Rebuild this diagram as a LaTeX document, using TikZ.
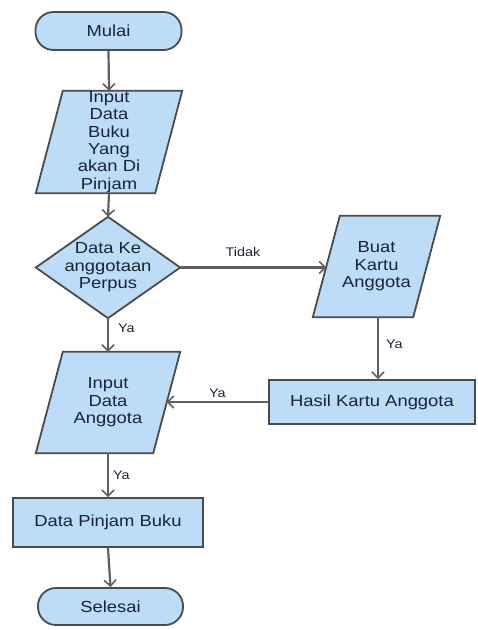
\documentclass[tikz,border=0pt]{standalone}
\usepackage{fontspec}
\setmainfont{Liberation Sans}[FakeStretch=1.15]
\usetikzlibrary{arrows.meta,calc}
\pgfdeclarelayer{bg}
\pgfsetlayers{bg,main}
\definecolor{boxfill}{RGB}{189,220,248}
\definecolor{boxline}{RGB}{75,75,75}
\definecolor{arrline}{RGB}{95,95,95}
\definecolor{txtcol}{RGB}{25,35,55}
\begin{document}
\begin{tikzpicture}[x=1pt,y=1pt,
  box/.style={draw=none, inner sep=0pt, align=center, text=txtcol, font=\fontsize{16pt}{17.4pt}\selectfont},
  term/.style={box, draw=boxline, fill=boxfill, line width=1.8pt, rounded corners=18pt},
  proc/.style={box, draw=boxline, fill=boxfill, line width=1.8pt},
  shp/.style={draw=boxline, fill=boxfill, line width=1.8pt, line join=miter},
  conn/.style={draw=arrline, line width=2.2pt, -{Straight Barb[length=6pt,width=12pt,line width=1.6pt]}},
  lbl/.style={inner sep=1pt, text=txtcol, font=\fontsize{12.5pt}{14pt}\selectfont}]
\useasboundingbox (0,0) rectangle (478,-630);
\node[term, minimum width=146pt, minimum height=38pt] (mulai) at (108.5,-31) {Mulai};
\node[box, minimum width=146pt, minimum height=102pt] (in1) at (109,-142) {Input\\Data\\Buku\\Yang\\akan Di\\Pinjam};
\node[box, minimum width=144pt, minimum height=101pt] (dia) at (108,-267.5) {Data Ke\\anggotaan\\Perpus};
\node[box, minimum width=127pt, minimum height=101pt] (buat) at (376.5,-266.5) {Buat\\Kartu\\Anggota};
\node[proc, minimum width=206pt, minimum height=44pt] (hasil) at (372,-402) {Hasil Kartu Anggota};
\node[box, minimum width=144pt, minimum height=101pt] (in2) at (108,-402.5) {Input\\Data\\Anggota};
\node[proc, minimum width=190pt, minimum height=49pt] (dpb) at (108,-522.5) {Data Pinjam Buku};
\node[term, minimum width=145pt, minimum height=37pt] (sel) at (110.5,-606.5) {Selesai};
\begin{pgfonlayer}{bg}
  \fill[white] (0,0) rectangle (478,-630);
  \foreach \n in {in1,buat,in2}
    \draw[shp] ($(\n.north west)+(27,0)$) -- (\n.north east) -- ($(\n.south east)+(-27,0)$) -- (\n.south west) -- cycle;
  \draw[shp] (dia.north) -- (dia.east) -- (dia.south) -- (dia.west) -- cycle;
\end{pgfonlayer}
\coordinate (bs) at ($(buat.south)+(1.5,0)$);
\draw[conn] (mulai.south) -- (in1.north);
\draw[conn] (in1.south) -- (dia.north);
\draw[conn] (dia.east) -- node[lbl, above=9pt, pos=0.43]{Tidak} ($(dia.east -| buat.west)+(13.5,0)$);
\draw[conn] (dia.south) -- node[lbl, right=8pt, pos=0.3]{Ya} (in2.north);
\draw[conn] (bs) -- node[lbl, right=6pt, pos=0.44]{Ya} (bs |- hasil.north);
\draw[conn] (hasil.west) -- node[lbl, above=2pt, pos=0.5]{Ya} ($(hasil.west -| in2.east)+(-13.5,0)$);
\draw[conn] (in2.south) -- node[lbl, right=3pt, pos=0.5]{Ya} (dpb.north);
\draw[conn] (dpb.south) -- (sel.north);
\end{tikzpicture}
\end{document}
